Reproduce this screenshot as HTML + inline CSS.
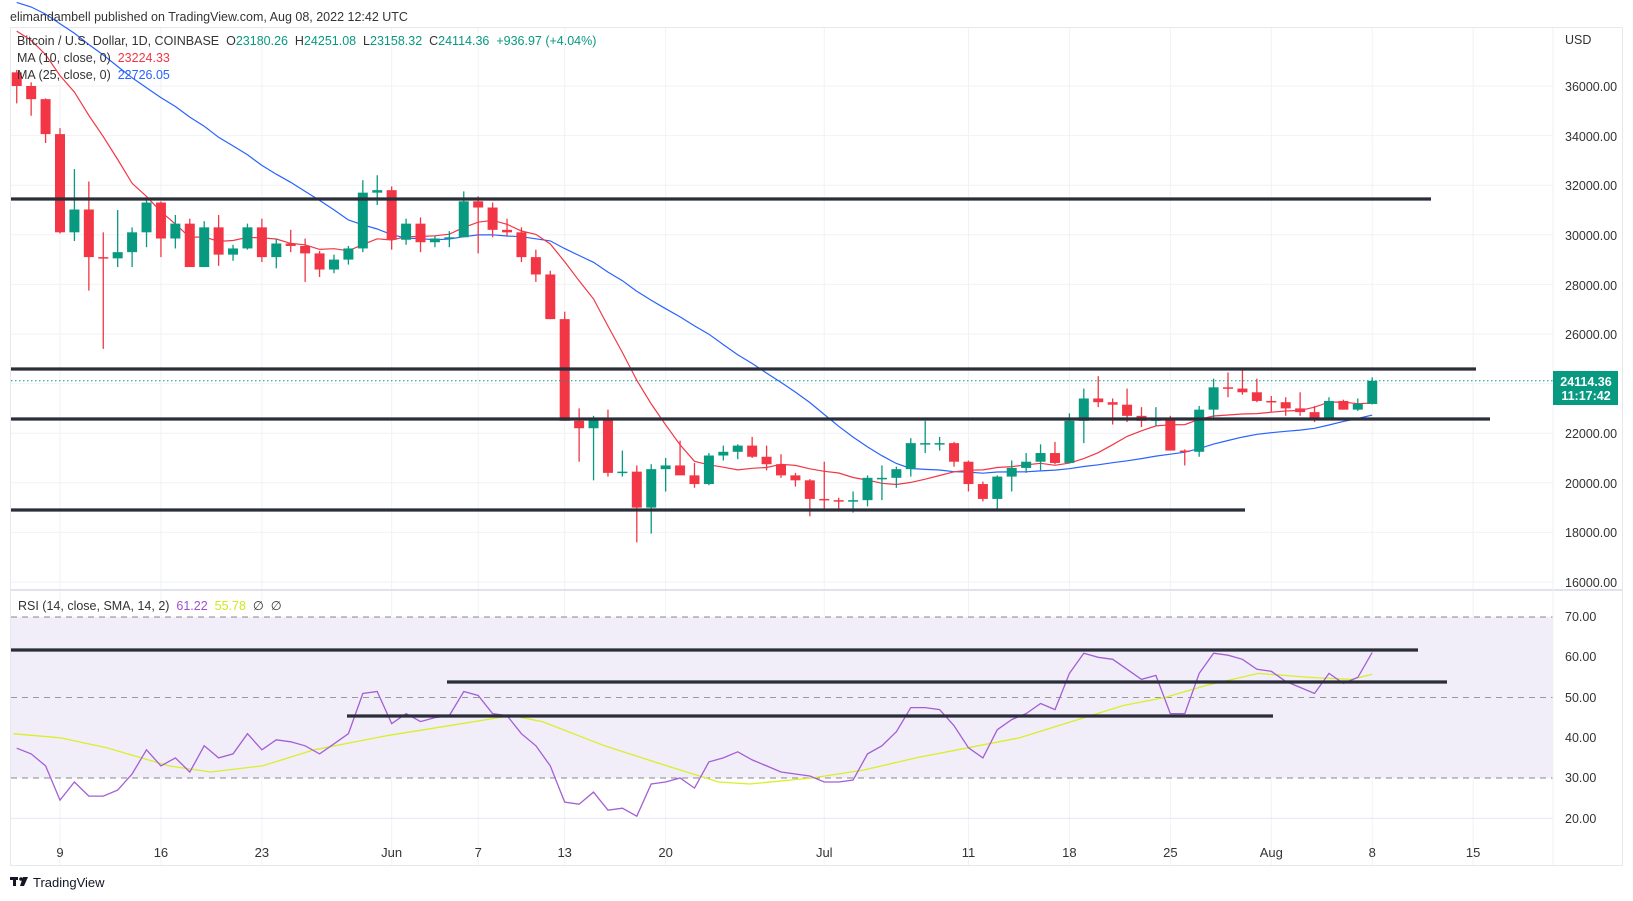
<!DOCTYPE html>
<html><head><meta charset="utf-8">
<style>
html,body{margin:0;padding:0;background:#fff;width:1633px;height:901px;overflow:hidden;font-family:"Liberation Sans",sans-serif;}
svg{position:absolute;left:0;top:0}
svg text{white-space:pre}
</style></head><body>
<svg id="s" width="1633" height="901" xmlns="http://www.w3.org/2000/svg" font-family="Liberation Sans, sans-serif">
<rect x="10.5" y="27.5" width="1612" height="838" fill="#fff" stroke="#e6e8ee"/>
<g id="grid"></g>
<rect x="11" y="617" width="1542" height="161" fill="#f1edf9"/>
<line x1="11" x2="1553" y1="617" y2="617" stroke="#888" stroke-dasharray="6,5"/>
<line x1="11" x2="1553" y1="697.5" y2="697.5" stroke="#999" stroke-dasharray="6,5"/>
<line x1="11" x2="1553" y1="778" y2="778" stroke="#888" stroke-dasharray="6,5"/>
<line x1="11" x2="1623" y1="590" y2="590" stroke="#e0e3eb" stroke-width="2"/>
<line x1="1553" x2="1553" y1="28" y2="865" stroke="#eef0f4"/>
<g id="plot"></g>
<g stroke="#2a2e39" stroke-width="3.2" stroke-linecap="butt">
<line x1="11" x2="1431" y1="199" y2="199"/>
<line x1="11" x2="1476" y1="369" y2="369"/>
<line x1="11" x2="1490" y1="419" y2="419"/>
<line x1="11" x2="1245" y1="510" y2="510"/>
<line x1="11" x2="1418" y1="650" y2="650"/>
<line x1="447" x2="1447" y1="682" y2="682"/>
<line x1="347" x2="1273" y1="716" y2="716"/>
</g>
<line x1="11" x2="1553" y1="380.8" y2="380.8" stroke="#089981" stroke-dasharray="1.5,2.5"/>
<rect x="1553" y="371" width="65" height="34" fill="#089981"/>
<text x="1586" y="386" font-size="12.5" font-weight="bold" fill="#fff" text-anchor="middle">24114.36</text>
<text x="1586" y="400" font-size="12.5" font-weight="bold" fill="#fff" text-anchor="middle">11:17:42</text>
<g font-size="12.5" fill="#333">
<text x="1565" y="44">USD</text>
<text x="1565" y="91">36000.00</text>
<text x="1565" y="141">34000.00</text>
<text x="1565" y="190">32000.00</text>
<text x="1565" y="240">30000.00</text>
<text x="1565" y="290">28000.00</text>
<text x="1565" y="339">26000.00</text>
<text x="1565" y="438">22000.00</text>
<text x="1565" y="488">20000.00</text>
<text x="1565" y="537">18000.00</text>
<text x="1565" y="587">16000.00</text>
<text x="1565" y="621">70.00</text>
<text x="1565" y="661">60.00</text>
<text x="1565" y="702">50.00</text>
<text x="1565" y="742">40.00</text>
<text x="1565" y="782">30.00</text>
<text x="1565" y="823">20.00</text>
</g>
<g id="dates" font-size="13" fill="#333" text-anchor="middle"></g>
<text x="10" y="21" font-size="12.5" fill="#333">elimandambell published on TradingView.com, Aug 08, 2022 12:42 UTC</text>
<text x="17" y="45" font-size="12.5" fill="#333">Bitcoin / U.S. Dollar, 1D, COINBASE  <tspan>O</tspan><tspan fill="#089981">23180.26</tspan>  H<tspan fill="#089981">24251.08</tspan>  L<tspan fill="#089981">23158.32</tspan>  C<tspan fill="#089981">24114.36</tspan>  <tspan fill="#089981">+936.97 (+4.04%)</tspan></text>
<text x="17" y="62" font-size="12.5" fill="#333">MA (10, close, 0)  <tspan fill="#f23645">23224.33</tspan></text>
<text x="17" y="79" font-size="12.5" fill="#333">MA (25, close, 0)  <tspan fill="#2962ff">22726.05</tspan></text>
<text x="18" y="610" font-size="12.5" fill="#333">RSI (14, close, SMA, 14, 2)  <tspan fill="#9c4fd0">61.22</tspan>  <tspan fill="#d0e81c">55.78</tspan>  ∅  ∅</text>
<g fill="#131722"><rect x="10" y="877" width="8" height="3"/><rect x="13" y="877" width="3" height="9"/><circle cx="21" cy="879" r="1.8"/><polygon points="23,877 28,877 24,886 20,886"/></g>
<text x="33" y="887" font-size="13" fill="#131722">TradingView</text>
</svg>
<script>
const NS="http://www.w3.org/2000/svg";
function el(t,a,p){const e=document.createElementNS(NS,t);for(const k in a)e.setAttribute(k,a[k]);p.appendChild(e);return e;}
const X=d=>60+14.42*d, Y=p=>86+(36000-p)*0.0248, R=v=>617+(70-v)*4.025;
const grid=document.getElementById('grid'),plot=document.getElementById('plot'),dates=document.getElementById('dates');
[[0,'9'],[7,'16'],[14,'23'],[23,'Jun'],[29,'7'],[35,'13'],[42,'20'],[53,'Jul'],[63,'11'],[70,'18'],[77,'25'],[84,'Aug'],[91,'8'],[98,'15']].forEach(([d,t])=>{
 el('line',{x1:X(d),x2:X(d),y1:28,y2:865,stroke:'#f0f2f6'},grid);
 const tx=el('text',{x:X(d),y:857},dates);tx.textContent=t;});
for(let p=16000;p<=36000;p+=2000)el('line',{x1:11,x2:1553,y1:Y(p),y2:Y(p),stroke:'#f0f2f6'},grid);
[20,40,60].forEach(v=>el('line',{x1:11,x2:1553,y1:R(v),y2:R(v),stroke:'#e8e6f2'},grid));
const D=[[36550,36650,35300,36000],[36000,36150,34800,35470],[35470,35500,33700,34060],[34060,34300,30050,30100],[30100,32650,29750,31020],[31020,32150,27750,29100],[29100,30100,25400,29050],[29050,31000,28700,29300],[29300,30300,28700,30100],[30100,31400,29500,31300],[31300,31350,29100,29850],[29850,30800,29450,30450],[30450,30650,28700,28700],[28700,30550,28700,30300],[30300,30800,28750,29200],[29200,29600,28950,29450],[29450,30450,29400,30300],[30300,30650,28900,29100],[29100,29850,28650,29650],[29650,30200,29300,29550],[29550,29850,28100,29250],[29250,29350,28300,28600],[28600,29200,28450,29000],[29000,29550,28800,29450],[29450,32200,29300,31700],[31700,32400,31200,31800],[31800,31950,29400,29800],[29800,30650,29600,30450],[30450,30700,29300,29700],[29700,29950,29500,29850],[29850,30150,29500,29900],[29900,31750,29900,31350],[31350,31550,29250,31100],[31100,31300,29900,30200],[30200,30650,29950,30100],[30100,30300,28900,29100],[29100,29400,28100,28400],[28400,28550,26600,26600],[26600,26900,22600,22500],[22500,23000,20850,22200],[22200,22700,20100,22600],[22600,22950,20250,20400],[20400,21300,20250,20450],[20450,20700,17600,19000],[19000,20750,17950,20550],[20550,21000,19650,20700],[20700,21700,20400,20300],[20300,20800,19800,19950],[19950,21200,19900,21100],[21100,21500,20900,21250],[21250,21550,20950,21500],[21500,21850,21000,21050],[21050,21500,20500,20750],[20750,21150,20200,20300],[20300,20400,19850,20100],[20100,20150,18650,19350],[19350,20850,18950,19300],[19300,19400,18950,19250],[19250,19650,18800,19300],[19300,20300,19050,20200],[20200,20700,19300,20200],[20200,20650,19800,20550],[20550,21800,20250,21600],[21600,22500,21200,21600],[21600,21850,21300,21600],[21600,21650,20650,20850],[20850,20900,19650,19950],[19950,20050,19250,19350],[19350,20300,18950,20250],[20250,20900,19650,20600],[20600,21200,20400,20850],[20850,21550,20500,21200],[21200,21650,20750,20800],[20800,22800,20800,22500],[22500,23800,21600,23400],[23400,24300,23050,23250],[23250,23400,22350,23150],[23150,23800,22450,22700],[22700,23050,22250,22500],[22500,23050,22300,22600],[22600,22700,21300,21300],[21300,21350,20700,21250],[21250,23100,21050,22950],[22950,24200,22600,23850],[23850,24450,23450,23800],[23800,24650,23550,23650],[23650,24200,23250,23300],[23300,23500,22850,23250],[23250,23450,22700,23000],[23000,23650,22700,22850],[22850,23100,22450,22600],[22600,23450,22550,23300],[23300,23350,22950,22950],[22950,23400,22900,23180],[23180,24251,23158,24114]];
const pre=[39500,40100,41150,39950,40550,40400,39700,40800,41500,41400,39700,39450,39450,39450,40400,38100,39250,39750,38600,37650,38450,37700,38500,39700,36550];
const closes=pre.concat(D.map(c=>c[3]));
function ma(n){let pts=[];for(let i=0;i<D.length;i++){const k=i+pre.length;let s=0;for(let j=k-n+1;j<=k;j++)s+=closes[j];pts.push(X(i-3).toFixed(1)+','+Y(s/n).toFixed(1));}return pts.join(' ');}
el('polyline',{points:ma(25),fill:'none',stroke:'#2962ff','stroke-width':1.2},plot);
el('polyline',{points:ma(10),fill:'none',stroke:'#f23645','stroke-width':1.2},plot);
D.forEach((c,i)=>{const [o,h,l,cl]=c;const col=cl>=o?'#089981':'#f23645';const x=X(i-3);
 el('line',{x1:x,x2:x,y1:Y(h),y2:Y(l),stroke:col,'stroke-width':1.3},plot);
 const t=Y(Math.max(o,cl)),b=Y(Math.min(o,cl));
 el('rect',{x:x-5,y:t,width:10,height:Math.max(1.5,b-t),fill:col},plot);});
const rsi=[37.4,36,33,24.5,29,25.5,25.5,27,31,37,33,35,31.5,38,35,36,41,37,39.5,39,38,36,38.5,41,51,51.5,43.5,46,44,45,45.5,51.5,50.5,46,45.5,41,38,33,24,23.5,26.5,22,22.5,20.5,28.5,29,30,27.5,34,35,36.5,34.5,33,31.5,31,30.5,29,29,29.5,36,38,41.5,47.5,47.5,47,43,37.5,35,42,44.5,46,48.5,47,56,61,60,59.5,57,54.5,55.5,46,46,56,61,60.5,59.5,57,56.5,54,52.5,51,56,53.5,55,61.2];
const sma=[[10,41],[55,40],[100,37.5],[160,33],[200,31.5],[250,33],[300,37],[370,40.5],[430,43],[490,45.5],[520,44],[580,38],[640,33],[690,29],[720,28.5],[780,30],[830,32],[880,35],[930,37.5],[980,40],[1030,44],[1080,48],[1120,50],[1160,53],[1210,56],[1260,55],[1300,54.5],[1320,55.8]];
el('polyline',{points:sma.map(([x,v])=>(60+(x-55)*1.0374).toFixed(1)+','+R(v).toFixed(1)).join(' '),fill:'none',stroke:'#d9ef2a','stroke-width':1.3},plot);
el('polyline',{points:rsi.map((v,i)=>X(i-3).toFixed(1)+','+R(v).toFixed(1)).join(' '),fill:'none',stroke:'#a35fd4','stroke-width':1.3},plot);
</script>
</body></html>
